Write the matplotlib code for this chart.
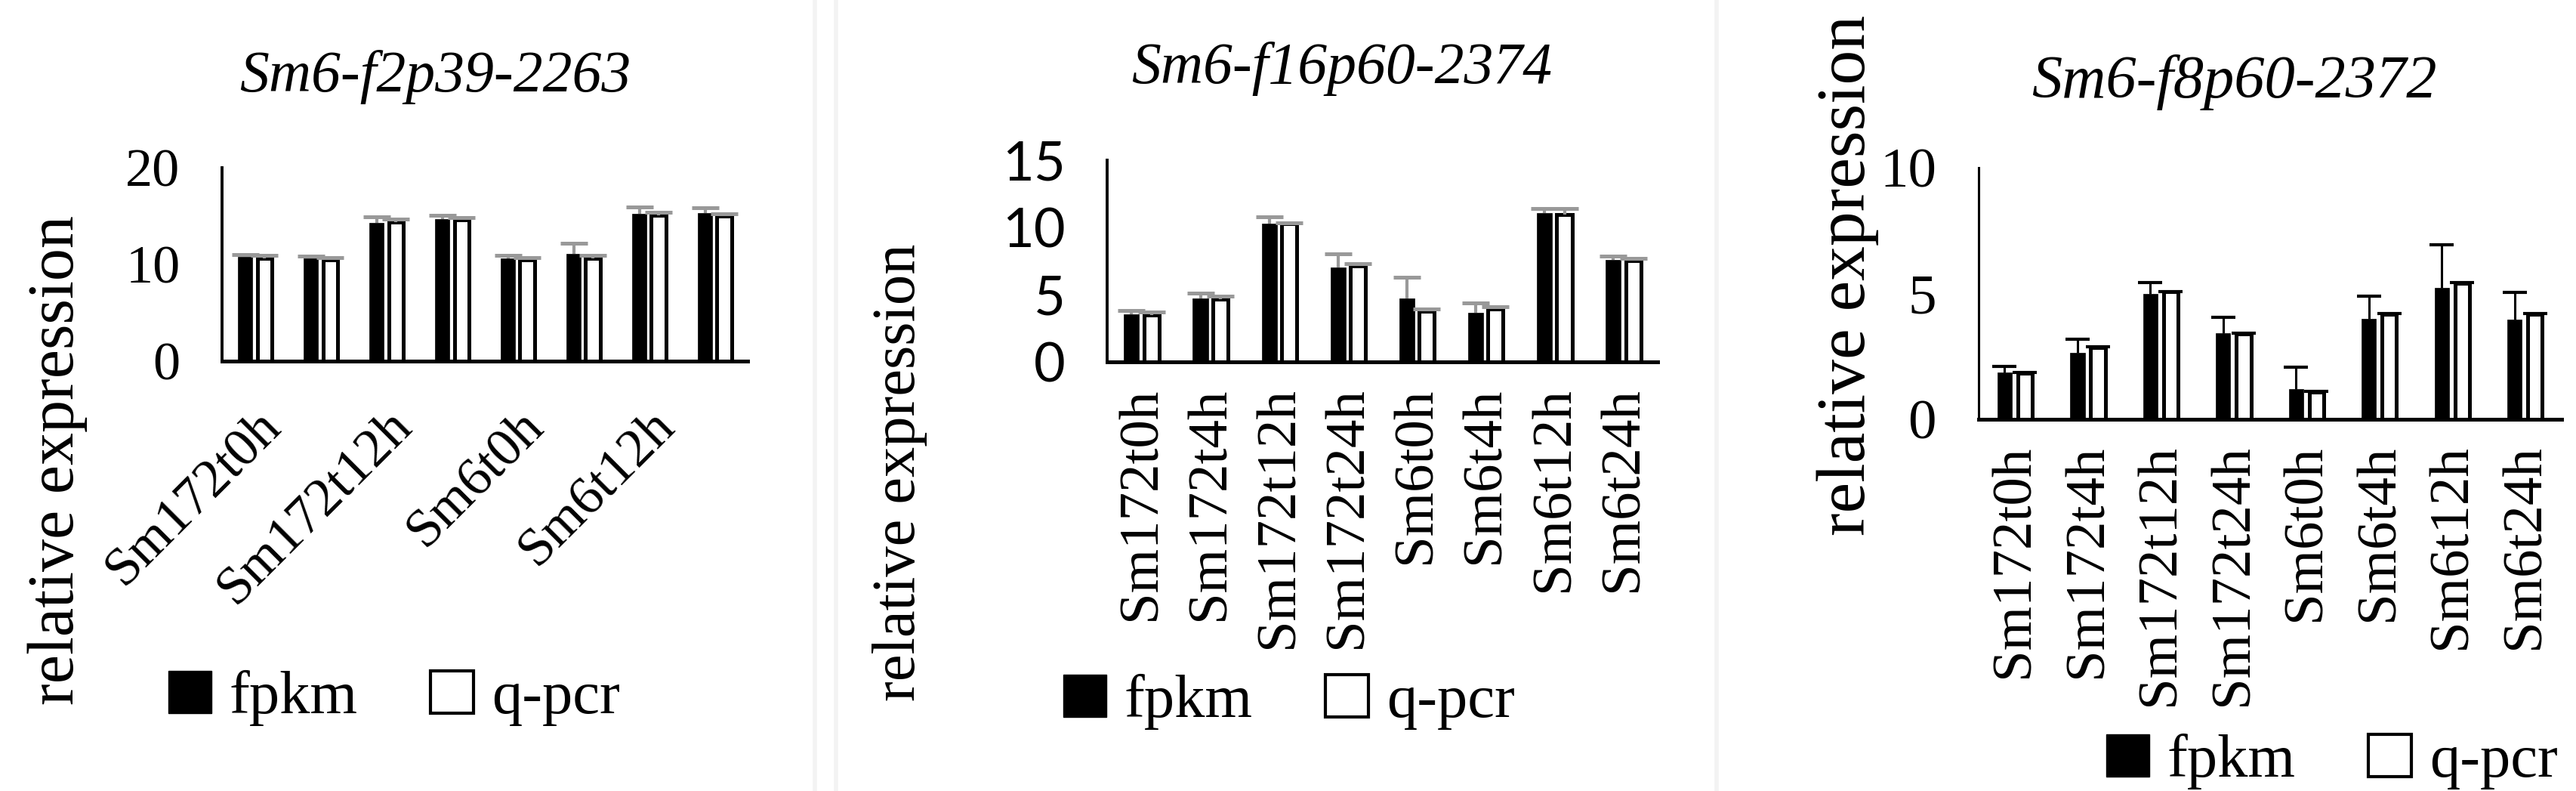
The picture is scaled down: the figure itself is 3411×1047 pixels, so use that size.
import numpy as np
import matplotlib
matplotlib.use("Agg")
import matplotlib.pyplot as plt
from matplotlib.patches import Patch
from matplotlib.lines import Line2D

plt.rcParams['font.family'] = ['Liberation Serif', 'DejaVu Serif']

categories = ['Sm172t0h', 'Sm172t4h', 'Sm172t12h', 'Sm172t24h',
              'Sm6t0h', 'Sm6t4h', 'Sm6t12h', 'Sm6t24h']
titles = ['Sm6-f2p39-2263', 'Sm6-f16p60-2374', 'Sm6-f8p60-2372']

# panel 1
fpkm1 = [10.8, 10.6, 14.3, 14.7, 10.6, 11.1, 15.25, 15.3]
fpkm1_err = [0.25, 0.25, 0.6, 0.35, 0.35, 1.05, 0.7, 0.55]
qpcr1 = [10.6, 10.5, 14.4, 14.6, 10.5, 10.6, 15.05, 15.0]
qpcr1_err = [0.3, 0.2, 0.3, 0.25, 0.2, 0.3, 0.3, 0.25]

# panel 2
fpkm2 = [3.55, 4.7, 10.3, 7.05, 4.7, 3.64, 11.07, 7.59]
fpkm2_err = [0.26, 0.4, 0.5, 1.0, 1.6, 0.77, 0.31, 0.26]
qpcr2 = [3.5, 4.65, 10.26, 7.14, 3.76, 3.93, 10.97, 7.53]
qpcr2_err = [0.2, 0.21, 0.05, 0.15, 0.18, 0.18, 0.41, 0.19]

# panel 3
fpkm3 = [1.86, 2.65, 4.98, 3.42, 1.19, 4.0, 5.22, 3.95]
fpkm3_err = [0.24, 0.52, 0.45, 0.62, 0.88, 0.89, 1.72, 1.09]
qpcr3 = [1.83, 2.85, 5.06, 3.39, 1.09, 4.18, 5.4, 4.18]
qpcr3_err = [0.02, 0.02, 0.02, 0.02, 0.02, 0.02, 0.02, 0.02]


def draw_panel(ax, fpkm, fpkm_err, qpcr, qpcr_err, ymax, step, ecolor,
               tick_font, bw=0.22, off=0.145, elw=3.0, capw=26, capt=3.6):
    x = np.arange(len(categories))
    ax.bar(x - off, fpkm, bw, color='black', edgecolor='black', linewidth=0.5, zorder=2)
    ax.bar(x + off, qpcr, bw, color='white', edgecolor='black', linewidth=3.6, zorder=2)
    for xs, ys, es in [(x - off, fpkm, fpkm_err), (x + off, qpcr, qpcr_err)]:
        ys = np.array(ys)
        es = np.array(es)
        # only the upper half of the error bar is drawn
        ax.errorbar(xs, ys, yerr=[np.zeros_like(es), es], fmt='none',
                    ecolor=ecolor, elinewidth=elw, capsize=0, zorder=3)
        ax.plot(xs, ys + es, ls='none', marker='_', ms=capw, mew=capt,
                color=ecolor, zorder=4)
    ax.set_xlim(-0.5, len(categories) - 0.5)
    ax.set_ylim(0, ymax)
    ax.set_yticks(np.arange(0, ymax + 0.1, step))
    for s in ['top', 'right']:
        ax.spines[s].set_visible(False)
    ax.spines['bottom'].set_linewidth(3.6)
    ax.spines['left'].set_linewidth(2.8)
    ax.tick_params(length=0)
    for lab in ax.get_yticklabels():
        lab.set_fontfamily(tick_font)
    return x


fig = plt.figure(figsize=(34.11, 10.47), dpi=100)

# panel 1
ax1 = fig.add_axes([0.0862, 0.5435, 0.204, 0.2445])
x = draw_panel(ax1, fpkm1, fpkm1_err, qpcr1, qpcr1_err, 20, 10, '#999999', 'Liberation Serif')
ax1.set_xticks(x[::2])
ax1.set_xticklabels(categories[::2], rotation=45, ha='right', rotation_mode='anchor', fontsize=52)
ax1.tick_params(axis='x', pad=38)
ax1.tick_params(axis='y', labelsize=52, pad=40)

# panel 2
ax2 = fig.add_axes([0.4298, 0.5425, 0.2137, 0.255])
x = draw_panel(ax2, fpkm2, fpkm2_err, qpcr2, qpcr2_err, 15, 5, '#999999', 'Lato')
ax2.set_xticks(x)
ax2.set_xticklabels(categories, rotation=90, fontsize=54)
ax2.tick_params(axis='x', pad=24)
ax2.tick_params(axis='y', labelsize=52, pad=40)

# panel 3
ax3 = fig.add_axes([0.768, 0.47, 0.2263, 0.318])
x = draw_panel(ax3, fpkm3, fpkm3_err, qpcr3, qpcr3_err, 10, 5, 'black', 'Liberation Serif',
               bw=0.2, off=0.14, elw=2.2, capw=23, capt=3.0)
ax3.spines['left'].set_linewidth(2.2)
ax3.set_xticks(x)
ax3.set_xticklabels(categories, rotation=90, fontsize=54)
ax3.tick_params(axis='x', pad=24)
ax3.tick_params(axis='y', labelsize=54, pad=40)

# titles and y labels
fig.text(576 / 3411, 1 - 102 / 1047, titles[0], style='italic', fontsize=56, ha='center', va='center')
fig.text(1777 / 3411, 1 - 91 / 1047, titles[1], style='italic', fontsize=56, ha='center', va='center')
fig.text(2958 / 3411, 1 - 109 / 1047, titles[2], style='italic', fontsize=58, ha='center', va='center')

fig.text(76 / 3411, 1 - 609 / 1047, 'relative expression', rotation=90, fontsize=62, ha='center', va='center')
fig.text(1192 / 3411, 1 - 625 / 1047, 'relative expression', rotation=90, fontsize=58, ha='center', va='center')
fig.text(2447 / 3411, 1 - 364 / 1047, 'relative expression', rotation=90, fontsize=66, ha='center', va='center')

# legends
handles = [Patch(facecolor='black', edgecolor='black'),
           Patch(facecolor='white', edgecolor='black', linewidth=3)]
for cx, cy in [(522, 924), (1707, 929), (3088, 1008)]:
    fig.legend(handles, ['fpkm', 'q-pcr'], loc='center', bbox_to_anchor=(cx / 3411, 1 - cy / 1047),
               ncol=2, frameon=False, fontsize=58, handlelength=0.7, handleheight=0.7,
               handletextpad=0.3, columnspacing=1.2, borderaxespad=0, borderpad=0)

# faint panel separators
for xs in [1079, 1107, 2273]:
    fig.add_artist(Line2D([xs / 3411, xs / 3411], [0, 1], transform=fig.transFigure,
                          color='#f3f3f3', linewidth=4))

fig.savefig('out.png', dpi=100, facecolor='white')
